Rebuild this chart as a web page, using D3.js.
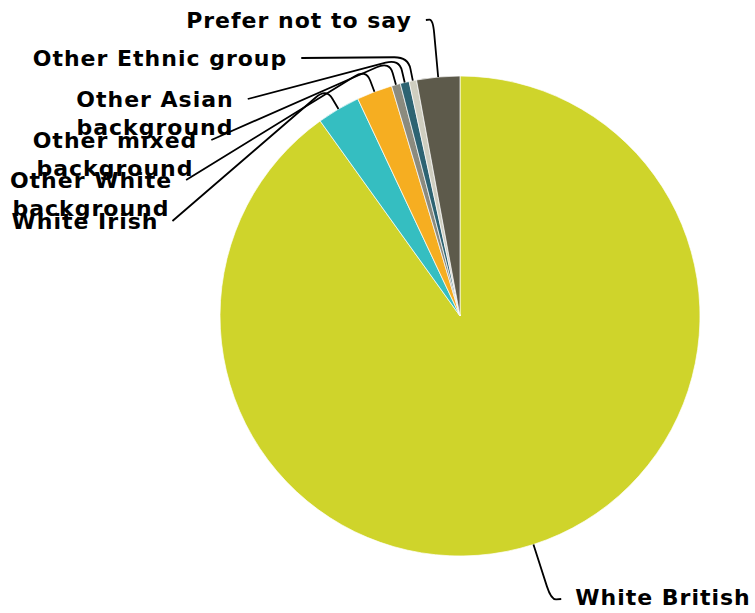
<!DOCTYPE html>
<html>
<head>
<meta charset="utf-8">
<script src="https://cdn.jsdelivr.net/npm/d3@7"></script>
<style>
  html, body { margin: 0; padding: 0; background: #fff; }
  svg { display: block; }
  .lbl { font-family: "DejaVu Sans", sans-serif; font-weight: bold; font-size: 22px; letter-spacing: 1px; fill: #000; }
</style>
</head>
<body>
<svg id="chart" width="755" height="613"></svg>
<script>
// Ethnicity breakdown (percent of respondents)
const categories = [
  "White British",
  "White Irish",
  "Other White background",
  "Other mixed background",
  "Other Asian background",
  "Other Ethnic group",
  "Prefer not to say"
];
const values = [90.1, 2.9, 2.4, 0.6, 0.6, 0.5, 2.9];
const colors = ["#cfd42b", "#35bec1", "#f6ae21", "#8b8b7f", "#2d6372", "#cfcec0", "#5d5a4b"];

// Label placement: centre x, first baseline, radius of the leader elbow
const labelLayout = [
  { cx: 663, y: 605, er: 298 },
  { cx: 85,  y: 229, er: 264 },
  { cx: 91,  y: 188, er: 264 },
  { cx: 115, y: 148, er: 264 },
  { cx: 155, y: 107, er: 264 },
  { cx: 160, y: 66,  er: 264 },
  { cx: 299, y: 28,  er: 298 }
];

const svg = d3.select("#chart");
const cx = 460, cy = 316, R = 240;

const pie = d3.pie().sort(null).value(d => d.value);
const data = categories.map((c, i) => ({ name: c, value: values[i], color: colors[i] }));
const arcs = pie(data);
const arc = d3.arc().innerRadius(0).outerRadius(R);

const g = svg.append("g").attr("transform", `translate(${cx},${cy})`);
g.selectAll("path.slice")
  .data(arcs)
  .join("path")
  .attr("class", "slice")
  .attr("d", arc)
  .attr("fill", d => d.data.color)
  .attr("stroke", "#fff")
  .attr("stroke-width", 0.7);

// split "... background" names onto two lines
function lines(name) {
  const m = name.match(/^(.*) (background)$/);
  return m ? [m[1], m[2]] : [name];
}

function polar(angle, r) {
  return [cx + r * Math.sin(angle), cy - r * Math.cos(angle)];
}

const labels = svg.append("g");
const leaders = svg.append("g");

arcs.forEach((a, i) => {
  const L = labelLayout[i];
  const ls = lines(a.data.name);
  const t = labels.append("text")
    .attr("class", "lbl")
    .attr("text-anchor", "middle");
  ls.forEach((s, k) => {
    t.append("tspan").attr("x", L.cx).attr("y", L.y + k * 28).text(s);
  });
  const first = t.select("tspan").node();
  const w = first.getComputedTextLength();
  const mid = (a.startAngle + a.endAngle) / 2;
  const P = polar(mid, R);
  const E = polar(mid, L.er);
  let S;
  if (P[0] > cx) {
    S = [L.cx - w / 2 - 14, L.y - 6];
  } else {
    S = [L.cx + w / 2 + 14, L.y - 8];
  }
  // leader: label → elbow (rounded) → slice edge
  const rad = 14;
  const d1 = Math.hypot(E[0] - S[0], E[1] - S[1]);
  const d2 = Math.hypot(P[0] - E[0], P[1] - E[1]);
  const r1 = Math.min(rad, d1 / 2), r2 = Math.min(rad, d2 / 2);
  const A = [E[0] + (S[0] - E[0]) * r1 / d1, E[1] + (S[1] - E[1]) * r1 / d1];
  const B = [E[0] + (P[0] - E[0]) * r2 / d2, E[1] + (P[1] - E[1]) * r2 / d2];
  const p = d3.path();
  p.moveTo(S[0], S[1]);
  p.lineTo(A[0], A[1]);
  p.quadraticCurveTo(E[0], E[1], B[0], B[1]);
  p.lineTo(P[0], P[1]);
  leaders.append("path")
    .attr("d", p.toString())
    .attr("fill", "none")
    .attr("stroke", "#000")
    .attr("stroke-width", 1.8);
});
</script>
</body>
</html>
